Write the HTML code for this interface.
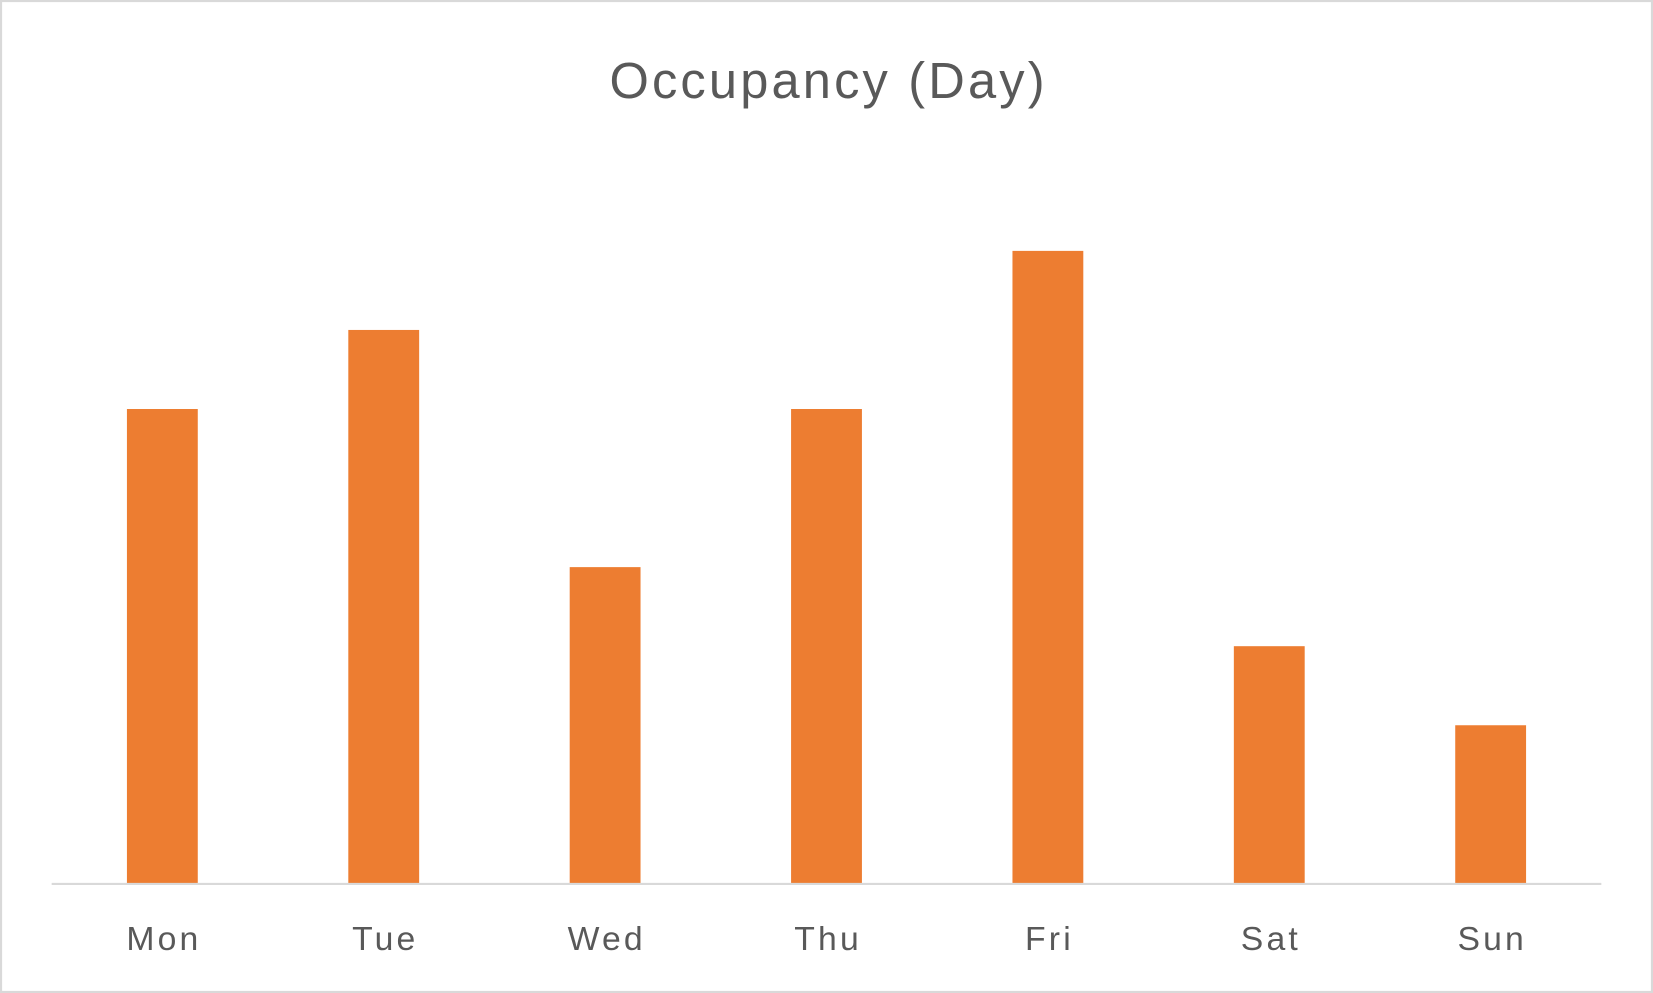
<!DOCTYPE html>
<html>
<head>
<meta charset="utf-8">
<style>
  html,body{margin:0;padding:0;background:#fff;}
  svg{display:block;}
  text{font-family:"Liberation Sans",sans-serif;fill:#595959;}
</style>
</head>
<body>
<svg id="chart" width="1653" height="993" viewBox="0 0 1568 942" preserveAspectRatio="none" xmlns="http://www.w3.org/2000/svg">
  <rect x="1" y="1" width="1566" height="940" fill="#fff" stroke="#d9d9d9" stroke-width="2"/>
  <text x="786" y="93" font-size="48" letter-spacing="3" text-anchor="middle">Occupancy (Day)</text>
  <g id="bars"></g>
  <line x1="49" y1="838.5" x2="1519" y2="838.5" stroke="#d9d9d9" stroke-width="2"/>
  <g id="labels"></g>
</svg>
<script>
const categories = ["Mon","Tue","Wed","Thu","Fri","Sat","Sun"];
const occupancy = [6,7,4,6,8,3,2];
const yMax = 9;

const plotLeft = 49, plotRight = 1519, plotTop = 163, plotBottom = 838;
const band = (plotRight - plotLeft) / categories.length;
const barW = band * 0.32;
function xCenter(i){ return plotLeft + band * (i + 0.5); }
function yScale(v){ return plotBottom - (v / yMax) * (plotBottom - plotTop); }

const NS = "http://www.w3.org/2000/svg";
const barsG = document.getElementById("bars");
const labelsG = document.getElementById("labels");
categories.forEach((c, i) => {
  const r = document.createElementNS(NS, "rect");
  
  
  const y = yScale(occupancy[i]);
  r.setAttribute("x", xCenter(i) - barW / 2);
  r.setAttribute("y", y);
  r.setAttribute("width", barW);
  r.setAttribute("height", plotBottom - y);
  r.setAttribute("fill", "#ed7d31");
  barsG.appendChild(r);

  const t = document.createElementNS(NS, "text");
  
  
  t.setAttribute("x", xCenter(i) + 1.5);
  t.setAttribute("y", 901);
  t.setAttribute("font-size", "32");
  t.setAttribute("letter-spacing", "3");
  t.setAttribute("text-anchor", "middle");
  t.textContent = c;
  labelsG.appendChild(t);
});
</script>
</body>
</html>
